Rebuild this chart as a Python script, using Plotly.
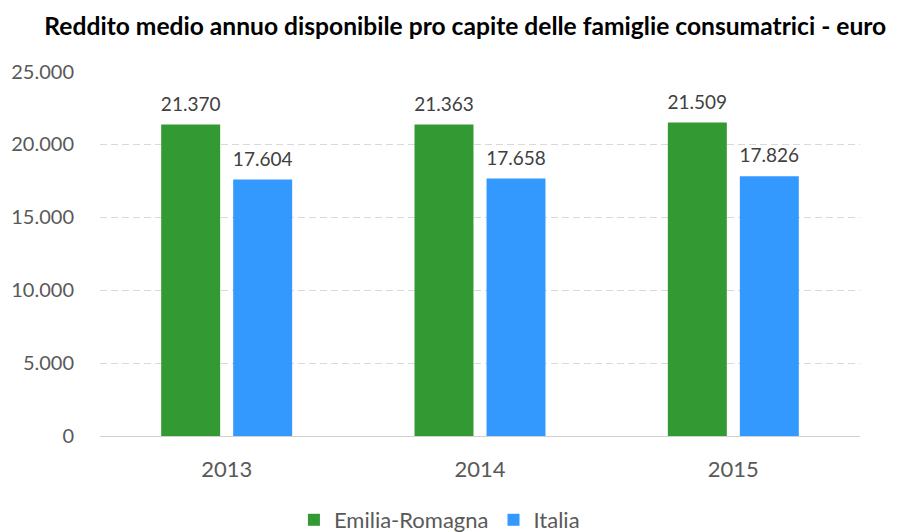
import plotly.graph_objects as go

years = ["2013", "2014", "2015"]
emilia = [21370, 21363, 21509]
italia = [17604, 17658, 17826]
tickvals = [0, 5000, 10000, 15000, 20000, 25000]
ticktext = ["0", "5.000", "10.000", "15.000", "20.000", "25.000"]
series = [("Emilia-Romagna", emilia, "#339933"), ("Italia", italia, "#3399FF")]

def fmt(v):
    return f"{v:,}".replace(",", ".")

FONT = "Lato"
fig = go.Figure()
for i, (name, vals, col) in enumerate(series):
    fig.add_trace(go.Bar(name=name, x=years, y=vals, marker_color=col,
                         marker_line_width=0, offsetgroup=str(i), hoverinfo="x+y"))
for i, (name, vals, col) in enumerate(series):
    fig.add_trace(go.Scatter(x=years, y=vals, mode="markers+text", offsetgroup=str(i),
                             text=[fmt(v) for v in vals], textposition="top center",
                             marker=dict(size=13, color="rgba(0,0,0,0)"),
                             textfont=dict(family=FONT, size=19, color="#404040"),
                             showlegend=False, hoverinfo="skip", cliponaxis=False))

fig.update_layout(
    width=902, height=532,
    paper_bgcolor="white", plot_bgcolor="white",
    font=dict(family=FONT, color="#595959"),
    title=dict(text="<b>Reddito medio annuo disponibile pro capite delle famiglie consumatrici - euro</b>",
               x=0.507, xanchor="center", y=0.966, yanchor="middle",
               font=dict(family=FONT, size=24.6, color="black")),
    barmode="group", bargap=0.4316, bargroupgap=0.181,
    scattermode="group", scattergap=0.4316,
    margin=dict(l=92, r=50, t=63, b=104, autoexpand=False),
    xaxis=dict(showline=True, linecolor="#d0d0d0", linewidth=1, ticks="outside",
               ticklen=14, tickcolor="rgba(0,0,0,0)",
               tickfont=dict(family=FONT, size=22, color="#595959")),
    yaxis=dict(range=[0, 25040], tickvals=tickvals, ticktext=ticktext,
               showgrid=True, gridcolor="#d9d9d9", griddash="7px,4px", gridwidth=1,
               zeroline=False, ticks="outside", ticklen=21, tickcolor="rgba(0,0,0,0)",
               tickfont=dict(family=FONT, size=20, color="#595959")),
    legend=dict(orientation="h", xref="container", yref="container",
                x=0.317, xanchor="left", y=0.0376, yanchor="middle",
                font=dict(family=FONT, size=22, color="#595959"), traceorder="normal"),
)
fig.write_html("out.html")
